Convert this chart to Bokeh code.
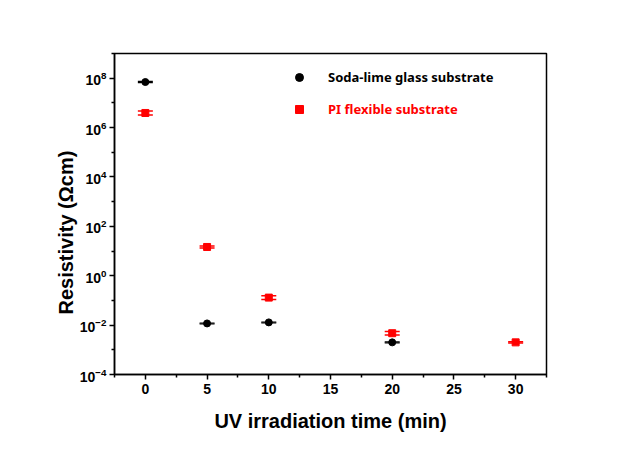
from bokeh.plotting import figure
from bokeh.models import (ColumnDataSource, Whisker, TeeHead, FixedTicker, Legend, LegendItem,
                          Range1d, Title)
from bokeh.embed import file_html
from bokeh.resources import INLINE

# ---- data ----
glass_t = [0, 5, 10, 20]
glass_rho = [7.0e7, 0.0117, 0.0129, 0.0020]
glass_lo = [6.6e7, 0.0112, 0.0124, 0.00192]
glass_hi = [7.4e7, 0.0122, 0.0134, 0.00208]

pi_t = [0, 5, 10, 20, 30]
pi_rho = [3.9e6, 14.6, 0.13, 0.0047, 0.0020]
pi_lo = [3.2e6, 13.4, 0.108, 0.0040, 0.00190]
pi_hi = [4.7e6, 15.9, 0.156, 0.0055, 0.00211]

x_ticks = [0, 5, 10, 15, 20, 25, 30]
x_minor = [-2.5, 2.5, 7.5, 12.5, 17.5, 22.5, 27.5, 32.5]
y_ticks = [1e-4, 1e-2, 1e0, 1e2, 1e4, 1e6, 1e8]
y_minor = [1e-3, 1e-1, 1e1, 1e3, 1e5, 1e7, 1e9]

FONT = "Liberation Sans"

p = figure(width=618, height=434, y_axis_type="log",
           x_range=Range1d(-2.5, 32.5), y_range=Range1d(1e-4, 1e9),
           output_backend="svg", toolbar_location=None,
           min_border_left=114, min_border_right=72,
           min_border_top=53, min_border_bottom=58)

p.grid.visible = False
p.outline_line_color = "black"
p.outline_line_width = 1.5
p.background_fill_color = "white"
p.border_fill_color = "white"

src_g = ColumnDataSource(dict(t=glass_t, rho=glass_rho, lo=glass_lo, hi=glass_hi))
src_p = ColumnDataSource(dict(t=pi_t, rho=pi_rho, lo=pi_lo, hi=pi_hi))

wg = Whisker(source=src_g, base="t", lower="lo", upper="hi", dimension="height",
             line_color="black", line_width=1.2,
             upper_head=TeeHead(size=15, line_color="black", line_width=1.2),
             lower_head=TeeHead(size=15, line_color="black", line_width=1.2))
wp = Whisker(source=src_p, base="t", lower="lo", upper="hi", dimension="height",
             line_color="red", line_width=1.5,
             upper_head=TeeHead(size=15, line_color="red", line_width=1.5),
             lower_head=TeeHead(size=15, line_color="red", line_width=1.5))
p.add_layout(wg)
p.add_layout(wp)

rg = p.scatter("t", "rho", source=src_g, marker="circle", size=7,
               fill_color="black", line_color="black")
rp = p.scatter("t", "rho", source=src_p, marker="square", size=7,
               fill_color="red", line_color="red")

# axes
for ax in (p.xaxis[0], p.yaxis[0]):
    ax.axis_line_width = 1.5
    ax.major_tick_line_width = 1.5
    ax.minor_tick_line_width = 1.5
    ax.major_tick_out = 5
    ax.major_tick_in = 0
    ax.minor_tick_out = 3
    ax.minor_tick_in = 0
    ax.major_label_text_font = FONT
    ax.major_label_text_font_style = "bold"
    ax.major_label_text_font_size = "14px"
    ax.major_label_text_color = "black"
    ax.axis_label_text_font = FONT
    ax.axis_label_text_font_style = "bold"
    ax.axis_label_text_font_size = "20px"
    ax.axis_label_text_color = "black"

p.xaxis.ticker = FixedTicker(ticks=x_ticks, minor_ticks=x_minor)
p.yaxis.ticker = FixedTicker(ticks=y_ticks, minor_ticks=y_minor)
p.xaxis.axis_label = "UV irradiation time (min)"
p.xaxis.major_label_standoff = 4
p.xaxis.axis_label_standoff = 13
p.yaxis.major_label_standoff = 3

# y-axis title, placed slightly below the frame centre as in the original
ytitle = Title(text="Resistivity (\u03a9cm)", align="left", offset=60,
               text_font=FONT, text_font_style="bold", text_font_size="20px",
               text_color="black", standoff=0)
p.add_layout(ytitle, "left")

# legends
lg1 = Legend(items=[LegendItem(label="Soda-lime glass substrate", renderers=[rg])],
             location=(175, 287), border_line_color=None, background_fill_alpha=0,
             padding=0, margin=0, glyph_width=20, glyph_height=20, label_height=20,
             label_standoff=19, label_text_font="Noto Sans", label_text_font_style="bold",
             label_text_font_size="13px", label_text_color="black")
lg2 = Legend(items=[LegendItem(label="PI flexible substrate", renderers=[rp])],
             location=(175, 255), border_line_color=None, background_fill_alpha=0,
             padding=0, margin=0, glyph_width=20, glyph_height=20, label_height=20,
             label_standoff=19, label_text_font="Noto Sans", label_text_font_style="bold",
             label_text_font_size="13px", label_text_color="red")
p.add_layout(lg1)
p.add_layout(lg2)

open("out.html", "w").write(file_html(p, INLINE))
